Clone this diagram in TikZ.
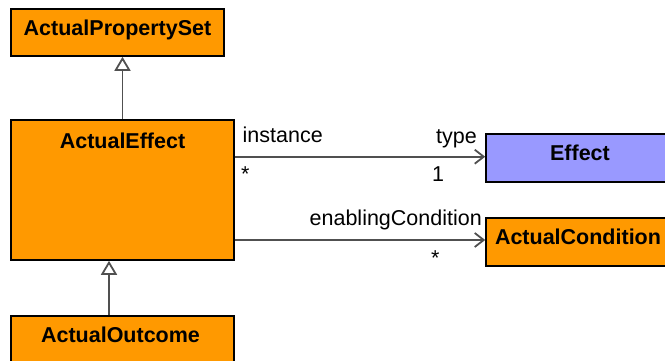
\documentclass[tikz,border=0pt]{standalone}
\usepackage{fontspec}
\setmainfont{Liberation Sans}
\usetikzlibrary{arrows.meta}
\definecolor{orng}{HTML}{FF9900}
\definecolor{lilac}{HTML}{9999FF}
\definecolor{conn}{HTML}{505050}
\tikzset{
  cls/.style={draw=black, line width=1.6pt, rectangle, inner sep=0pt},
  ttl/.style={font=\fontsize{21.5}{24}\selectfont\bfseries, anchor=base, inner sep=0pt},
  lbl/.style={font=\fontsize{21.5}{24}\selectfont, inner sep=0pt},
  inh/.style={draw=conn, line width=1.8pt, -{Triangle[open, length=14pt, width=16pt, fill=white]}},
  assoc/.style={draw=conn, line width=1.8pt, -{Straight Barb[length=9pt, width=14pt]}},
}
\begin{document}
\begin{tikzpicture}[x=1pt,y=-1pt]
\useasboundingbox (0,0) rectangle (665,360);
\clip (0,0) rectangle (665,360);
% classes
\node[cls, fill=orng, minimum width=213pt, minimum height=47pt] (aps) at (117.5,32.5) {};
\node[cls, fill=orng, minimum width=223pt, minimum height=140pt] (ae) at (122.5,190) {};
\node[cls, fill=orng, minimum width=223pt, minimum height=60pt] (ao) at (122.5,346) {};
\node[cls, fill=lilac, minimum width=186pt, minimum height=48pt] (eff) at (579,158) {};
\node[cls, fill=orng, minimum width=186pt, minimum height=48pt] (ac) at (579,242) {};
% titles
\node[ttl] (apsT) at (117.5,35) {ActualPropertySet};
\node[ttl] (aeT) at (122.5,148) {ActualEffect};
\node[ttl] (aoT) at (120.5,342) {ActualOutcome};
\node[ttl] (effT) at (580,160) {Effect};
\node[ttl] (acT) at (578,244) {ActualCondition};
% generalizations
\draw[inh] (ae.north) -- (ae.north |- aps.south);
\draw[inh] ([xshift=-13.5pt]ao.north) -- ([xshift=-13.5pt]ao.north |- ae.south);
% associations
\draw[assoc] ([yshift=1.3pt]eff.west -| ae.east) -- ([yshift=1.3pt]eff.west);
\draw[assoc] ([yshift=2pt]ac.west -| ae.east) -- ([yshift=2pt]ac.west);
% labels
\node[lbl, anchor=base west] (l1) at (242.5,142.7) {instance};
\node[lbl, anchor=base east] (l2) at (477,143.3) {type};
\node[lbl, anchor=base west] (l3) at (241,181.5) {*};
\node[lbl, anchor=base west] (l4) at (432,181.7) {1};
\node[lbl, anchor=base east] (l5) at (482,225) {enablingCondition};
\node[lbl, anchor=base west] (l6) at (431,265) {*};
\end{tikzpicture}
\end{document}
